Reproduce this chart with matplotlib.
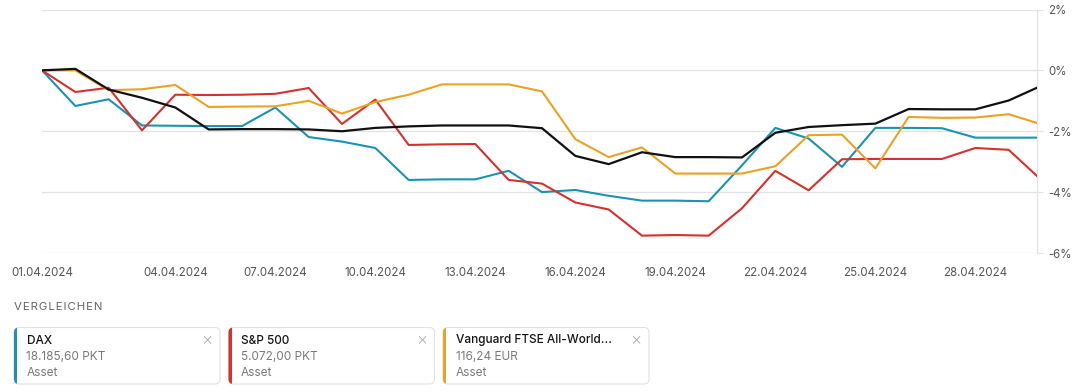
import matplotlib
matplotlib.use("Agg")
import matplotlib.pyplot as plt
from matplotlib.patches import FancyBboxPatch, Rectangle

plt.rcParams['font.family'] = ['Inter', 'DejaVu Sans']

# day index of every point (last one is the current, partial day)
days = [0, 1, 2, 3, 4, 5, 6, 7, 8, 9, 10, 11, 12, 13, 14, 15, 16, 17, 18, 19,
        20, 21, 22, 23, 24, 25, 26, 27, 28, 29, 29.85]

# performance in percent
main_asset = [0, 0.05, -0.63, -0.90, -1.22, -1.94, -1.93, -1.93, -1.94, -2.00,
              -1.89, -1.84, -1.81, -1.81, -1.81, -1.90, -2.81, -3.08, -2.69, -2.85,
              -2.85, -2.86, -2.05, -1.86, -1.80, -1.75, -1.27, -1.28, -1.28, -0.99, -0.57]
dax = [0, -1.17, -0.95, -1.81, -1.82, -1.83, -1.83, -1.22, -2.19, -2.34,
       -2.55, -3.60, -3.58, -3.58, -3.30, -4.00, -3.93, -4.12, -4.28, -4.28,
       -4.30, -3.12, -1.89, -2.24, -3.17, -1.89, -1.89, -1.90, -2.21, -2.21, -2.21]
sp500 = [0, -0.71, -0.57, -1.97, -0.80, -0.81, -0.80, -0.77, -0.58, -1.76,
         -0.96, -2.45, -2.43, -2.42, -3.60, -3.72, -4.34, -4.57, -5.43, -5.41,
         -5.43, -4.53, -3.30, -3.94, -2.92, -2.91, -2.91, -2.91, -2.55, -2.61, -3.47]
vanguard = [0, 0.0, -0.65, -0.62, -0.48, -1.20, -1.19, -1.18, -1.00, -1.42,
            -1.04, -0.80, -0.46, -0.46, -0.46, -0.69, -2.26, -2.85, -2.53, -3.39,
            -3.39, -3.39, -3.15, -2.13, -2.11, -3.22, -1.53, -1.56, -1.55, -1.44, -1.73]

tick_days = [0, 4, 7, 10, 13, 16, 19, 22, 25, 28]
tick_labels = ['01.04.2024', '04.04.2024', '07.04.2024', '10.04.2024', '13.04.2024',
               '16.04.2024', '19.04.2024', '22.04.2024', '25.04.2024', '28.04.2024']
y_ticks = [2, 0, -2, -4, -6]
y_labels = ['2%', '0%', '-2%', '-4%', '-6%']

# comparison cards
card_names = ['DAX', 'S&P 500', 'Vanguard FTSE All-World...']
card_values = ['18.185,60 PKT', '5.072,00 PKT', '116,24 EUR']
card_types = ['Asset', 'Asset', 'Asset']

c_dax = '#1b93b0'
c_sp = '#d6312d'
c_van = '#eba224'
c_main = '#111111'
grid_c = '#e3e3e3'

W, H = 1082, 391
fig = plt.figure(figsize=(W / 100, H / 100), dpi=100)

# main chart
ax = fig.add_axes([42 / W, 1 - 253 / H, (1037 - 42) / W, (253 - 9.5) / H])
ax.plot(days, dax, color=c_dax, lw=1.5, zorder=3)
ax.plot(days, sp500, color=c_sp, lw=1.5, zorder=3)
ax.plot(days, vanguard, color=c_van, lw=1.5, zorder=3)
ax.plot(days, main_asset, color=c_main, lw=1.6, zorder=4)

ax.set_xlim(days[0], days[-1])
ax.set_ylim(-6, 2)
ax.set_yticks(y_ticks)
ax.set_yticklabels(y_labels)
ax.set_xticks(tick_days)
ax.set_xticklabels(tick_labels)
ax.yaxis.tick_right()
ax.grid(axis='y', color=grid_c, lw=0.9)
ax.tick_params(axis='y', length=4, color=grid_c, pad=4, labelsize=8.3, labelcolor='#555555')
ax.tick_params(axis='x', length=0, pad=10, labelsize=8.3, labelcolor='#555555')
for lbl in ax.get_yticklabels():
    lbl.set_horizontalalignment('left')
for s in ['top', 'left', 'bottom']:
    ax.spines[s].set_visible(False)
ax.spines['right'].set_color(grid_c)
ax.spines['right'].set_linewidth(0.9)

# overlay in pixel coords for the comparison section
ov = fig.add_axes([0, 0, 1, 1])
ov.set_xlim(0, W)
ov.set_ylim(H, 0)
ov.axis('off')
ov.patch.set_visible(False)

ov.text(14, 307.5, '\u200a'.join('VERGLEICHEN'), fontsize=8.2,
        color='#666666', va='center', ha='left')

card_colors = [c_dax, c_sp, c_van]
for i, name in enumerate(card_names):
    x0 = 14 + i * 214.5
    card = FancyBboxPatch((x0, 327.5), 206, 56.5, boxstyle='round,pad=0,rounding_size=5',
                          facecolor='white', edgecolor='#e2e2e2', lw=0.8)
    ov.add_patch(card)
    bar = Rectangle((x0 - 1, 326), 4, 60, facecolor=card_colors[i], edgecolor='none')
    ov.add_patch(bar)
    bar.set_clip_path(card)
    ov.text(x0 + 12.5, 340.5, name, fontsize=8.5, color='#151515', va='center', ha='left',
            fontweight='medium')
    ov.text(x0 + 12.5, 356.5, card_values[i], fontsize=8.5, color='#7a7a7a', va='center', ha='left')
    ov.text(x0 + 12.5, 372.5, card_types[i], fontsize=8.5, color='#7a7a7a', va='center', ha='left')
    ov.text(x0 + 193, 339.5, '\u00d7', fontsize=12.5, color='#9a9a9a', va='center', ha='center',
            fontweight='light')

fig.savefig('out.png', dpi=100)
